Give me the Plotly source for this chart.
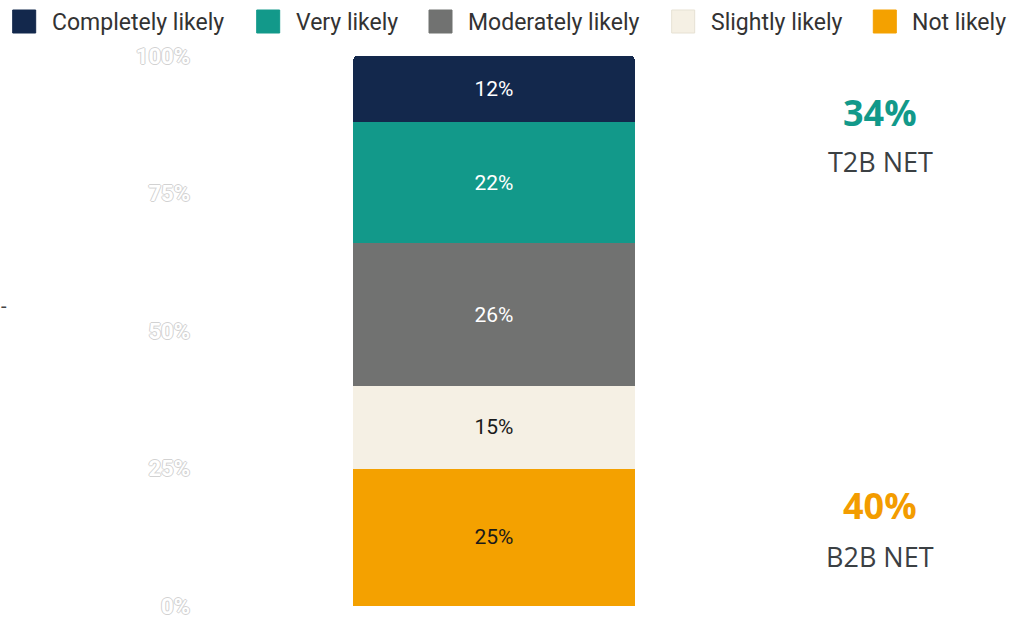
import plotly.graph_objects as go

# Likelihood scale, stacked from the bottom up
categories = ["Not likely", "Slightly likely", "Moderately likely", "Very likely", "Completely likely"]
shares = [25, 15, 26, 22, 12]
colors = ["#f4a100", "#f5f0e4", "#717271", "#12998a", "#13284c"]
label_colors = ["#1a1a1a", "#1a1a1a", "#ffffff", "#ffffff", "#ffffff"]

# Legend order (left to right)
legend_order = ["Completely likely", "Very likely", "Moderately likely", "Slightly likely", "Not likely"]

# Net scores
net_values = ["34%", "40%"]
net_labels = ["T2B NET", "B2B NET"]
net_colors = ["#12998a", "#f39c00"]

y_ticks = [0, 25, 50, 75, 100]
y_tick_labels = ["0%", "25%", "50%", "75%", "100%"]

W, H = 1010, 617
L, R, T, B = 196, 218, 56, 11
PW, PH = W - L - R, H - T - B


def px(x):
    return (x - L) / PW


def py(y):
    return (H - B - y) / PH


fig = go.Figure()
for cat, val, col, tcol in zip(categories, shares, colors, label_colors):
    fig.add_trace(go.Bar(
        x=[0], y=[val], name=cat,
        marker=dict(color=col, line=dict(width=0)),
        width=0.472,
        text=[f"{val}%"], texttemplate="%{text}", textposition="inside",
        insidetextanchor="middle", textangle=0, constraintext="none",
        textfont=dict(family="Roboto", size=21, color=tcol),
        showlegend=False, hoverinfo="skip",
    ))

# Legend row: colour swatch followed by its label
swatch_left = [12.7, 256.7, 429, 671.7, 873.3]
color_of = dict(zip(categories, colors))
shapes, annotations = [], []
for name, x0 in zip(legend_order, swatch_left):
    c = color_of[name]
    shapes.append(dict(
        type="rect", xref="paper", yref="paper",
        x0=px(x0), x1=px(x0 + 23), y0=py(33), y1=py(10),
        fillcolor=c, line=dict(color="#e6e1d3" if c == "#f5f0e4" else c, width=1),
        layer="above",
    ))
    annotations.append(dict(
        text=name, xref="paper", yref="paper", x=px(x0 + 37), y=py(22),
        xanchor="left", yanchor="middle", showarrow=False,
        font=dict(family="Roboto", size=23, color="#333333"),
    ))

# Net summaries on the right
for val, lab, col, yv, yl in zip(net_values, net_labels, net_colors, [112, 505], [161, 556]):
    annotations.append(dict(
        text=f"<b>{val}</b>", xref="paper", yref="paper", x=px(880), y=py(yv),
        xanchor="center", yanchor="middle", showarrow=False,
        font=dict(family="Open Sans", size=36, color=col),
    ))
    annotations.append(dict(
        text=lab, xref="paper", yref="paper", x=px(880), y=py(yl),
        xanchor="center", yanchor="middle", showarrow=False,
        font=dict(family="Open Sans", size=27, color="#3b4043"),
    ))

annotations.append(dict(
    text="-", xref="paper", yref="paper", x=px(-1), y=py(306),
    xanchor="left", yanchor="middle", showarrow=False,
    font=dict(family="Roboto", size=20, color="#444444"),
))

outline = "#d2d2d2"
fig.update_layout(
    width=W, height=H,
    margin=dict(l=L, r=R, t=T, b=B, pad=0, autoexpand=False),
    barmode="stack", barcornerradius=4,
    plot_bgcolor="white", paper_bgcolor="white",
    showlegend=False,
    shapes=shapes, annotations=annotations,
    xaxis=dict(range=[-0.5, 0.5], showticklabels=False, showgrid=False,
               zeroline=False, showline=False, fixedrange=True, automargin=False),
    yaxis=dict(range=[0, 100], tickvals=y_ticks, ticktext=y_tick_labels,
               showgrid=False, zeroline=False, showline=False, automargin=False,
               ticklabeloverflow="allow", ticklabelstandoff=5,
               tickfont=dict(family="Roboto", size=22, color="#ffffff", weight="bold",
                             shadow=(f"1px 0px 0px {outline}, -1px 0px 0px {outline}, "
                                     f"0px 1px 0px {outline}, 0px -1px 0px {outline}")),
               fixedrange=True),
)

fig.write_html("out.html")
